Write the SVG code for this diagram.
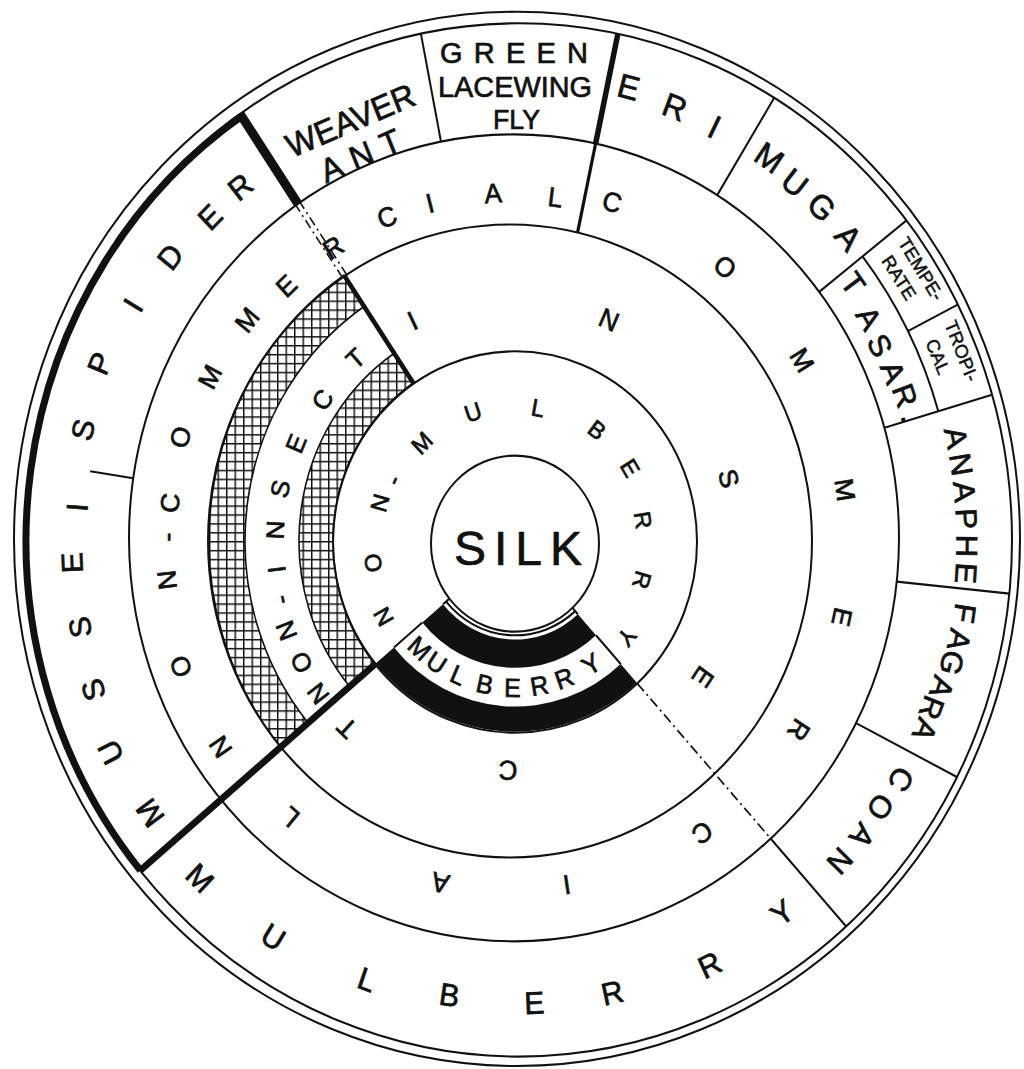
<svg xmlns="http://www.w3.org/2000/svg" width="1024" height="1069" viewBox="0 0 1024 1069">
<style>
.ln{fill:none;stroke:#111;stroke-width:2}
.tk{fill:none;stroke:#111;stroke-linecap:butt}
.t{font-family:"Liberation Sans",Arial,sans-serif;fill:#111;text-anchor:middle;stroke:#111;stroke-width:0.7}
.f18{font-size:18px;stroke-width:0.5}
.f23{font-size:23px}
.f25{font-size:25px}
.f26{font-size:26px}
.f30{font-size:30px}
.f32{font-size:32px}
</style>
<defs>
<pattern id="hatch" width="8.5" height="8.5" patternUnits="userSpaceOnUse">
<rect width="8.5" height="8.5" fill="#fff"/>
<path d="M0 0.7H8.5M0.7 0V8.5" stroke="#111" stroke-width="1.5"/>
</pattern>
</defs>
<rect width="1024" height="1069" fill="#fff"/>
<g id="diagram" transform="translate(515,541) scale(1,1.048)">
<g id="hatching">
<path d="M-165.5 138.8A216 216 0 0 1 -120.8 -179.1L-101.8 -150.9A182 182 0 0 0 -139.4 117Z" fill="url(#hatch)" stroke="#111" stroke-width="1.6"/>
<path d="M-234.4 196.7A306 306 0 0 1 -171.1 -253.7L-151 -223.8A270 270 0 0 0 -206.8 173.6Z" fill="url(#hatch)" stroke="#111" stroke-width="1.6"/>
</g>
<g id="rings">
<circle class="ln" cx="2" cy="-2" r="503"/>
<circle class="ln" cx="4" cy="-1" r="493"/>
<circle class="ln" cx="-1" cy="-3" r="385"/>
<circle class="ln" cx="-5" cy="0" r="302"/>
<circle class="ln" cx="0" cy="1" r="182"/>
</g>
<g id="node-mulberry-core">
<path d="M81 89.9A121 121 0 0 1 -92.7 77.8L-72 60.4A94 94 0 0 0 62.9 69.9Z" fill="#111"/>
<path d="M121.8 135.2A182 182 0 0 1 -139.4 117L-121 101.6A158 158 0 0 0 105.7 117.4Z" fill="#111"/>
<path class="ln" d="M60.2 66.9A90 90 0 0 1 -68.9 57.9"/>
<path class="ln" d="M57.5 63.8L62.9 69.9M-65.6 55L-72 60.4M81 89.9L105.7 117.4M-92.7 77.8L-121 101.6"/>
</g>
<circle id="node-silk-circle" class="ln" cx="0" cy="2.5" r="84" fill="#fff" stroke-width="2.4"/>
<g id="connectors">
<path class="tk" stroke-width="7" d="M-374.6 314.3A489 489 0 0 1 -273.4 -405.4"/>
<path class="tk" stroke-width="6.5" d="M-139.9 117.4L-374.6 314.3"/>
<path class="tk" stroke-width="4.5" d="M-101.3 -150.2L-170.4 -252.7"/>
<path class="tk" stroke-width="1.6" stroke-dasharray="9 4 2 4" d="M-168.3 -254.1L-214.9 -323.1M-172.5 -251.3L-219.1 -320.3"/>
<path class="tk" stroke-width="9" d="M-217 -321.7L-274.9 -407.5"/>
<path class="tk" stroke-width="3.2" d="M62.6 -294.4L80.6 -379.2"/>
<path class="tk" stroke-width="5.5" d="M80.6 -379.2L102.9 -484"/>
<path class="tk" stroke-width="1.7" stroke-dasharray="10 4 2 4" d="M122.2 135.8L255.6 283.9"/>
<path class="ln" d="M255.6 283.9L331.2 367.8"/>
<path class="ln" d="M-74 -380.9L-94.1 -484.1"/>
<path class="ln" d="M202.2 -330L259.2 -422.9"/>
<path class="ln" d="M304.2 -237.7L391.5 -305.9"/>
<path class="ln" d="M369.5 -108.1L477 -139.5"/>
<path class="ln" d="M381.7 38.8L494.4 50.2"/>
<path class="ln" d="M341.1 173.8L441.9 225.2"/>
<path class="ln" d="M392.9 -200.2L442.7 -225.6"/>
<path class="ln" d="M347.5 -271.5A441 441 0 0 1 423.3 -123.8"/>
<path class="ln" d="M-381.8 -59.8L-424.8 -66.5"/>
</g>
<g id="node-non-mulberry" class="t f23">
<text transform="rotate(241.2) translate(0,-150)" dy=".35em">N</text>
<text transform="rotate(261.6) translate(0,-143.5)" dy=".35em">O</text>
<text transform="rotate(285) translate(0,-140)" dy=".35em">N</text>
<text transform="rotate(295.5) translate(0,-135)" dy=".35em">-</text>
<text transform="rotate(315.2) translate(0,-132)" dy=".35em">M</text>
<text transform="rotate(341.1) translate(0,-130)" dy=".35em">U</text>
<text transform="rotate(10.3) translate(0,-129)" dy=".35em">L</text>
<text transform="rotate(37.7) translate(0,-134)" dy=".35em">B</text>
<text transform="rotate(58.8) translate(0,-134.5)" dy=".35em">E</text>
<text transform="rotate(81.1) translate(0,-129.6)" dy=".35em">R</text>
<text transform="rotate(106.3) translate(0,-132.3)" dy=".35em">R</text>
<text transform="rotate(129.3) translate(0,-144.7)" dy=".35em">Y</text>
</g>
<g id="node-mulberry-inner" class="t f25">
<text transform="rotate(43) translate(0,140)" dy=".35em">M</text>
<text transform="rotate(34) translate(0,140)" dy=".35em">U</text>
<text transform="rotate(24) translate(0,140)" dy=".35em">L</text>
<text transform="rotate(12.5) translate(0,140)" dy=".35em">B</text>
<text transform="rotate(1) translate(0,140)" dy=".35em">E</text>
<text transform="rotate(-10) translate(0,140)" dy=".35em">R</text>
<text transform="rotate(-20.5) translate(0,140)" dy=".35em">R</text>
<text transform="rotate(-33) translate(0,140)" dy=".35em">Y</text>
</g>
<g id="node-insect" class="t f26">
<text transform="rotate(334) translate(0,-234)" dy=".35em">I</text>
<text transform="rotate(24) translate(0,-231)" dy=".35em">N</text>
<text transform="rotate(74.4) translate(0,-222)" dy=".35em">S</text>
<text transform="rotate(124.6) translate(0,-228.5)" dy=".35em">E</text>
<text transform="rotate(181.8) translate(0,-219)" dy=".35em">C</text>
<text transform="rotate(223.3) translate(0,-245)" dy=".35em">T</text>
</g>
<g id="node-non-insect" class="t f25">
<text transform="rotate(233.5) translate(0,-245)" dy=".35em">N</text>
<text transform="rotate(241.5) translate(0,-243)" dy=".35em">O</text>
<text transform="rotate(249.5) translate(0,-244)" dy=".35em">N</text>
<text transform="rotate(256.5) translate(0,-241)" dy=".35em">-</text>
<text transform="rotate(263.5) translate(0,-240)" dy=".35em">I</text>
<text transform="rotate(272.5) translate(0,-240)" dy=".35em">N</text>
<text transform="rotate(282) translate(0,-240)" dy=".35em">S</text>
<text transform="rotate(293) translate(0,-238)" dy=".35em">E</text>
<text transform="rotate(305) translate(0,-235)" dy=".35em">C</text>
<text transform="rotate(317.5) translate(0,-236)" dy=".35em">T</text>
</g>
<g id="node-non-commercial" class="t f26">
<text transform="rotate(236.3) translate(0,-354)" dy=".35em">N</text>
<text transform="rotate(250.3) translate(0,-355)" dy=".35em">O</text>
<text transform="rotate(263.9) translate(0,-350)" dy=".35em">N</text>
<text transform="rotate(270.6) translate(0,-348)" dy=".35em">-</text>
<text transform="rotate(276) translate(0,-347)" dy=".35em">C</text>
<text transform="rotate(286.5) translate(0,-349)" dy=".35em">O</text>
<text transform="rotate(297.2) translate(0,-343)" dy=".35em">M</text>
<text transform="rotate(308.2) translate(0,-341)" dy=".35em">M</text>
<text transform="rotate(316.8) translate(0,-334)" dy=".35em">E</text>
<text transform="rotate(327) translate(0,-334)" dy=".35em">R</text>
<text transform="rotate(337.5) translate(0,-334.6)" dy=".35em">C</text>
<text transform="rotate(345.2) translate(0,-333.5)" dy=".35em">I</text>
<text transform="rotate(356.2) translate(0,-332.7)" dy=".35em">A</text>
<text transform="rotate(7) translate(0,-330.6)" dy=".35em">L</text>
</g>
<g id="node-commercial" class="t f26">
<text transform="rotate(16.7) translate(0,-337.7)" dy=".35em">C</text>
<text transform="rotate(38.8) translate(0,-335.4)" dy=".35em">O</text>
<text transform="rotate(59) translate(0,-335)" dy=".35em">M</text>
<text transform="rotate(81.6) translate(0,-333.6)" dy=".35em">M</text>
<text transform="rotate(102.5) translate(0,-335)" dy=".35em">E</text>
<text transform="rotate(122.4) translate(0,-336.4)" dy=".35em">R</text>
<text transform="rotate(146.1) translate(0,-335.6)" dy=".35em">C</text>
<text transform="rotate(171) translate(0,-332)" dy=".35em">I</text>
<text transform="rotate(192.9) translate(0,-334.8)" dy=".35em">A</text>
<text transform="rotate(220.5) translate(0,-346.4)" dy=".35em">L</text>
</g>
<g id="node-mussel-spider" class="t f30">
<text transform="rotate(234.6) translate(0,-448)" dy=".35em">M</text>
<text transform="rotate(243.5) translate(0,-452)" dy=".35em">U</text>
<text transform="rotate(251.4) translate(0,-445)" dy=".35em">S</text>
<text transform="rotate(259.3) translate(0,-442.7)" dy=".35em">S</text>
<text transform="rotate(267.3) translate(0,-443.5)" dy=".35em">E</text>
<text transform="rotate(274.2) translate(0,-439)" dy=".35em">I</text>
<text transform="rotate(283.8) translate(0,-444.8)" dy=".35em">S</text>
<text transform="rotate(292.2) translate(0,-448.4)" dy=".35em">P</text>
<text transform="rotate(300.5) translate(0,-443.4)" dy=".35em">I</text>
<text transform="rotate(308.2) translate(0,-438.7)" dy=".35em">D</text>
<text transform="rotate(315.4) translate(0,-434.3)" dy=".35em">E</text>
<text transform="rotate(320.9) translate(0,-435.6)" dy=".35em">R</text>
</g>
<g id="node-weaver-ant" class="t f32">
<text transform="rotate(337.7) translate(0,-434)" dy=".35em">WEAVER</text>
<text transform="rotate(337.2) translate(0,-399)" dy=".35em" x="5" letter-spacing="10">ANT</text>
</g>
<g id="node-eri" class="t f32">
<text transform="rotate(14.7) translate(0,-448)" dy=".35em">E</text>
<text transform="rotate(21.1) translate(0,-444)" dy=".35em">R</text>
<text transform="rotate(26.8) translate(0,-442.7)" dy=".35em">I</text>
</g>
<g id="node-muga" class="t f32">
<text transform="rotate(34.8) translate(0,-445.6)" dy=".35em">M</text>
<text transform="rotate(39.3) translate(0,-441.7)" dy=".35em">U</text>
<text transform="rotate(43.9) translate(0,-442.5)" dy=".35em">G</text>
<text transform="rotate(49) translate(0,-442)" dy=".35em">A</text>
</g>
<g id="node-tasar" class="t f30">
<text transform="rotate(54) translate(0,-418)" dy=".35em">T</text>
<text transform="rotate(59) translate(0,-413)" dy=".35em">A</text>
<text transform="rotate(62.9) translate(0,-410)" dy=".35em">S</text>
<text transform="rotate(66.9) translate(0,-411)" dy=".35em">A</text>
<text transform="rotate(70.4) translate(0,-414)" dy=".35em">R</text>
<text transform="rotate(73.4) translate(0,-414)" dy=".35em">.</text>
</g>
<g id="node-temperate" class="t f18">
<text transform="rotate(57.4) translate(0,-482)" dy=".35em">TEMPE-</text>
<text transform="rotate(56.8) translate(0,-459)" dy=".35em">RATE</text>
</g>
<g id="node-tropical" class="t f18">
<text transform="rotate(67.9) translate(0,-482)" dy=".35em">TROPI-</text>
<text transform="rotate(67.4) translate(0,-458)" dy=".35em">CAL</text>
</g>
<g id="node-anaphe" class="t f30">
<text transform="rotate(77.4) translate(0,-452)" dy=".35em">A</text>
<text transform="rotate(80.7) translate(0,-452)" dy=".35em">N</text>
<text transform="rotate(84) translate(0,-452)" dy=".35em">A</text>
<text transform="rotate(87.3) translate(0,-452)" dy=".35em">P</text>
<text transform="rotate(90.6) translate(0,-452)" dy=".35em">H</text>
<text transform="rotate(93.9) translate(0,-452)" dy=".35em">E</text>
</g>
<g id="node-fagara" class="t f30">
<text transform="rotate(98.7) translate(0,-455)" dy=".35em">F</text>
<text transform="rotate(102) translate(0,-454)" dy=".35em">A</text>
<text transform="rotate(104.9) translate(0,-452)" dy=".35em">G</text>
<text transform="rotate(108.1) translate(0,-449)" dy=".35em">A</text>
<text transform="rotate(110.9) translate(0,-446)" dy=".35em">R</text>
<text transform="rotate(113.7) translate(0,-448)" dy=".35em">A</text>
</g>
<g id="node-coan" class="t f30">
<text transform="rotate(120.5) translate(0,-448)" dy=".35em">C</text>
<text transform="rotate(124.8) translate(0,-445)" dy=".35em">O</text>
<text transform="rotate(129) translate(0,-447)" dy=".35em">A</text>
<text transform="rotate(133.2) translate(0,-446)" dy=".35em">N</text>
</g>
<g id="node-mulberry-outer" class="t f30">
<text transform="rotate(44.4) translate(0,450)" dy=".35em">M</text>
<text transform="rotate(32.6) translate(0,448.7)" dy=".35em">U</text>
<text transform="rotate(19.5) translate(0,444)" dy=".35em">L</text>
<text transform="rotate(8.6) translate(0,438)" dy=".35em">B</text>
<text transform="rotate(-2.5) translate(0,441)" dy=".35em">E</text>
<text transform="rotate(-12.7) translate(0,442)" dy=".35em">R</text>
<text transform="rotate(-25.7) translate(0,449)" dy=".35em">R</text>
<text transform="rotate(-37) translate(0,444)" dy=".35em">Y</text>
</g>
</g>
<g id="node-silk" class="t">
<text x="454" y="565" font-size="48" text-anchor="start" textLength="128" lengthAdjust="spacing">SILK</text>
</g>
<g id="node-green-lacewing-fly" class="t">
<text x="440" y="63" font-size="29" text-anchor="start" textLength="148" lengthAdjust="spacing">GREEN</text>
<text x="438" y="97" font-size="30" text-anchor="start" textLength="154" lengthAdjust="spacingAndGlyphs">LACEWING</text>
<text x="493" y="129" font-size="28" text-anchor="start" textLength="47" lengthAdjust="spacingAndGlyphs">FLY</text>
</g>
</svg>
